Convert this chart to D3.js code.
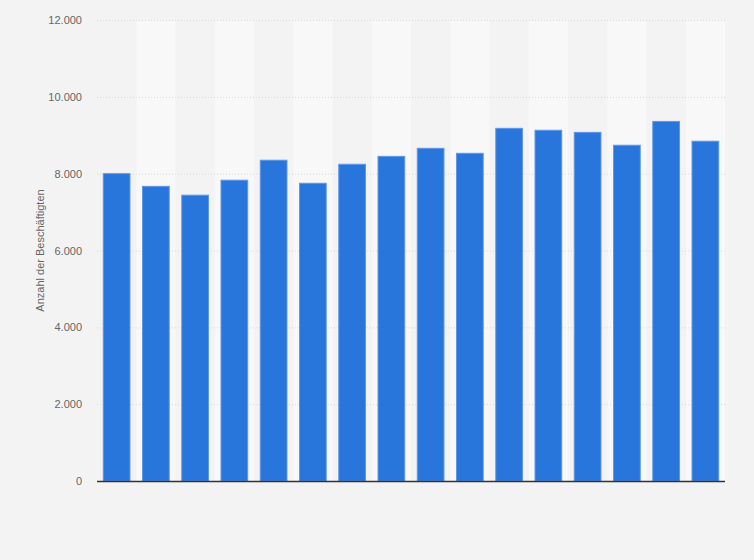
<!DOCTYPE html>
<html>
<head>
<meta charset="utf-8">
<title>Beschäftigte</title>
<script src="https://cdnjs.cloudflare.com/ajax/libs/d3/7.8.5/d3.min.js"></script>
<style>
  body { margin: 0; background: #f3f3f3; }
  svg { display: block; font-family: "Liberation Sans", Arial, sans-serif; }
</style>
</head>
<body>
<script>
// one bar per year, the chart has no category labels
const categories = d3.range(16).map(i => 'k' + i);
const employees = [8000, 7670, 7440, 7830, 8350, 7750, 8245, 8450, 8660, 8530, 9180, 9130, 9075, 8740, 9360, 8845];
const yTicks = [0, 2000, 4000, 6000, 8000, 10000, 12000];
const yLabel = 'Anzahl der Beschäftigten';

const width = 754, height = 560;
const margin = { top: 20, right: 29, bottom: 79, left: 97 };

const svg = d3.select('body').append('svg')
  .attr('width', width)
  .attr('height', height);

const x = d3.scaleBand()
  .domain(categories)
  .range([margin.left, width - margin.right])
  .paddingInner(0.32)
  .paddingOuter(0.16);

const xBand = d3.scaleBand()
  .domain(categories)
  .range([margin.left, width - margin.right]);

const y = d3.scaleLinear()
  .domain([0, 12000])
  .range([height - margin.bottom, margin.top]);

const fmt = d3.formatLocale({ decimal: ',', thousands: '.', grouping: [3], currency: ['', '€'] }).format(',.0f');

// alternating column bands
svg.append('g')
  .selectAll('rect')
  .data(categories.filter((d, i) => i % 2 === 1))
  .join('rect')
  .attr('x', d => xBand(d))
  .attr('y', margin.top)
  .attr('width', xBand.bandwidth())
  .attr('height', y(0) - margin.top)
  .attr('fill', '#f8f8f8');

// grid + tick labels
const yAxis = svg.append('g')
  .attr('transform', `translate(${margin.left},0)`)
  .call(d3.axisLeft(y)
    .tickValues(yTicks)
    .tickFormat(fmt)
    .tickSize(-(width - margin.left - margin.right))
    .tickPadding(15));

yAxis.select('.domain').remove();
yAxis.selectAll('.tick line')
  .attr('stroke', '#d8d8d8')
  .attr('stroke-dasharray', '1,2');
yAxis.selectAll('.tick text')
  .attr('fill', '#666')
  .style('font-size', '11px');

svg.append('g')
  .selectAll('rect')
  .data(employees)
  .join('rect')
  .attr('x', (d, i) => x(categories[i]))
  .attr('y', d => y(d))
  .attr('width', x.bandwidth())
  .attr('height', d => y(0) - y(d))
  .attr('fill', '#2875db')
  .attr('stroke', '#5e97e6')
  .attr('stroke-width', 1);

// base line
svg.append('line')
  .attr('x1', margin.left)
  .attr('x2', width - margin.right)
  .attr('y1', y(0) + 0.5)
  .attr('y2', y(0) + 0.5)
  .attr('stroke', '#333')
  .attr('stroke-width', 1.5);

svg.append('text')
  .attr('transform', `translate(44,${(margin.top + y(0)) / 2}) rotate(-90)`)
  .attr('text-anchor', 'middle')
  .attr('fill', '#666')
  .style('font-size', '11px')
  .text(yLabel);
</script>
</body>
</html>
